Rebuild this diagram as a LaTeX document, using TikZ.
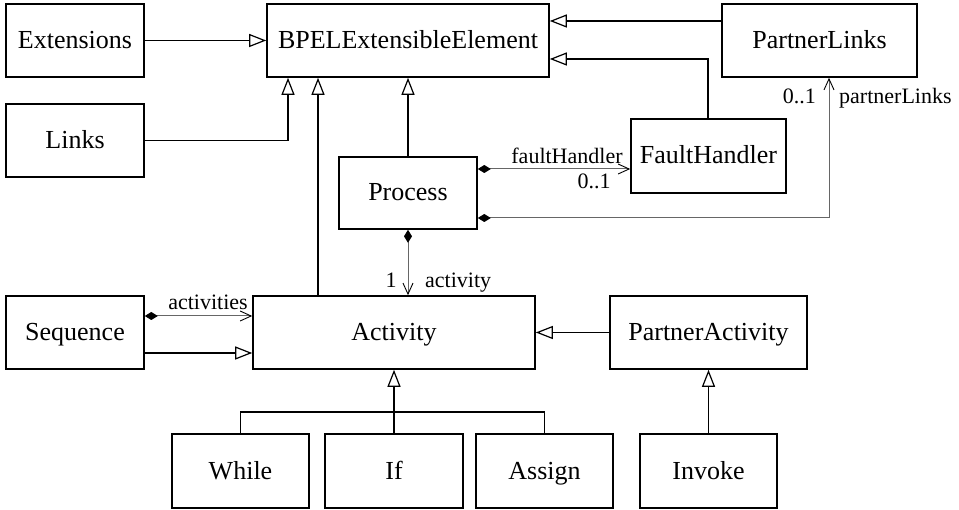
\documentclass[tikz,border=0pt]{standalone}
\usepackage{fontspec}
\setmainfont{Liberation Serif}
\usetikzlibrary{arrows.meta}
\begin{document}
\begin{tikzpicture}[x=1pt,y=-1pt,
  cls/.style={draw=black,line width=1.6pt,fill=white,inner sep=0pt,
    text height=18pt,text depth=2pt,font=\fontsize{26}{30}\selectfont},
  gen/.style={draw=black,line width=1.2pt,-{Triangle[open,length=17,width=13,line width=1.2pt]}},
  plain/.style={draw=black,line width=1.2pt},
  assoc/.style={draw=black!60,line width=1pt,
    {Diamond[length=13,width=8,fill=black,color=black]}-{Straight Barb[length=11,width=10,line width=0.9pt,color=black]}},
  role/.style={inner sep=0pt,anchor=base,font=\fontsize{22}{26}\selectfont}]
\useasboundingbox (0,0) rectangle (959,510);

% classes
\node[cls,minimum width=138,minimum height=73] (ext) at (75,40.5) {Extensions};
\node[cls,minimum width=138,minimum height=73] (links) at (75,140.5) {Links};
\node[cls,minimum width=282,minimum height=73] (bpel) at (408,40.5) {BPELExtensibleElement};
\node[cls,minimum width=195,minimum height=73] (pl) at (819.5,40.5) {PartnerLinks};
\node[cls,minimum width=155,minimum height=74] (fh) at (708.5,156) {FaultHandler};
\node[cls,minimum width=138,minimum height=72] (proc) at (408,193) {Process};
\node[cls,minimum width=138,minimum height=73] (seq) at (75,332.5) {Sequence};
\node[cls,minimum width=282,minimum height=73] (act) at (394,332.5) {Activity};
\node[cls,minimum width=197,minimum height=73] (pa) at (708.5,332.5) {PartnerActivity};
\node[cls,minimum width=137,minimum height=74] (wh) at (240.5,471) {While};
\node[cls,minimum width=138,minimum height=74] (iff) at (394,471) {If};
\node[cls,minimum width=137,minimum height=74] (asg) at (544.5,471) {Assign};
\node[cls,minimum width=137,minimum height=74] (inv) at (708.5,471) {Invoke};

% generalisations
\draw[gen] (ext) -- (bpel);
\draw[gen] (links.east) -| (bpel.south -| 288,0);
\draw[gen] (act.north -| 318,0) -- (bpel.south -| 318,0);
\draw[gen] (proc.north) -- (bpel.south -| proc.north);
\draw[gen] (pl.west |- 0,21) -- (bpel.east |- 0,21);
\draw[gen] (fh.north -| 708,0) |- (bpel.east |- 0,59);
\draw[gen] (seq.east |- 0,353) -- (act.west |- 0,353);
\draw[gen] (pa) -- (act);
\draw[gen] (inv.north) -- (pa.south -| inv.north);
\draw[plain] (wh.north) -- (wh.north |- 0,412) -- (asg.north |- 0,412) -- (asg.north);
\draw[gen] (iff.north) -- (act.south -| iff.north);

% compositions
\draw[assoc] (proc.east |- 0,169) -- (fh.west |- 0,169);
\draw[assoc] (proc.east |- 0,218) -| (pl.south -| 829,0);
\draw[assoc] (proc.south) -- (act.north -| proc.south);
\draw[assoc] (seq.east |- 0,316) -- (act.west |- 0,316);

% role names and multiplicities
\node[role] (lfh) at (567,164) {faultHandler};
\node[role] (mfh) at (594,189) {0..1};
\node[role,anchor=base east] (mpl) at (816,104) {0..1};
\node[role,anchor=base west] (lpl) at (839,104) {partnerLinks};
\node[role] (mact) at (391,288) {1};
\node[role,anchor=base west] (lact) at (425,288) {activity};
\node[role] (lacts) at (208,310) {activities};
\end{tikzpicture}
\end{document}
